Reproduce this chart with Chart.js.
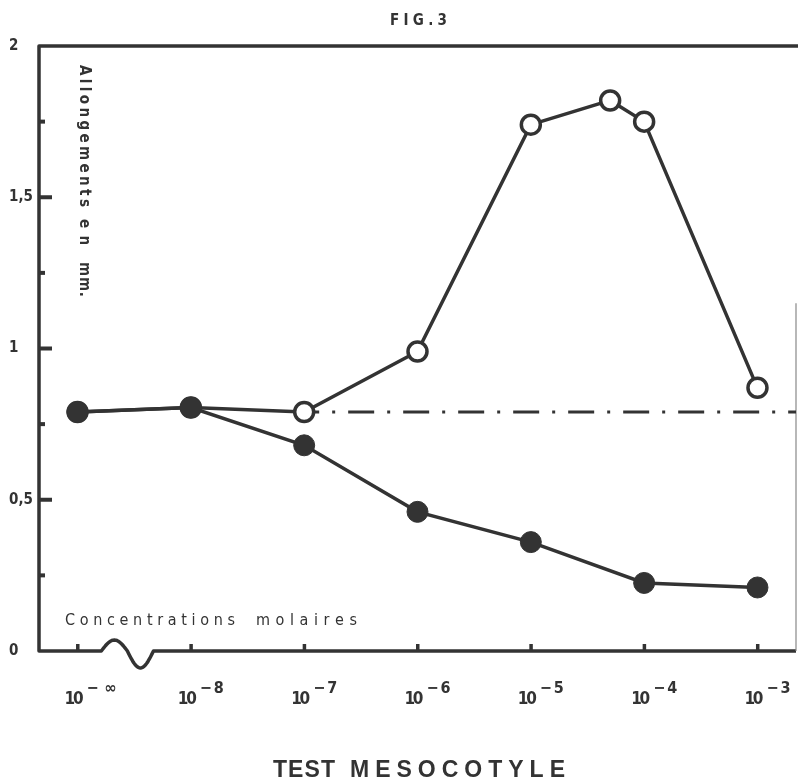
<!DOCTYPE html>
<html><head><meta charset="utf-8">
<script src="https://cdn.jsdelivr.net/npm/chart.js@4/dist/chart.umd.min.js"></script>
<style>html,body{margin:0;padding:0;background:#fff}canvas{display:block}</style>
</head><body>
<canvas id="c" width="798" height="779"></canvas>
<script>
// ---- data (x = log10 of molar concentration; -9 stands for 10^-∞) ----
const concentrationX = [-9, -8, -7, -6, -5, -4, -3];
const tickBase = '10';
const tickExponents = ['− ∞', '− 8', '− 7', '− 6', '− 5', '− 4', '− 3'];
const openX = [-9, -8, -7, -6, -5, -4.3, -4, -3];
const openY = [0.79, 0.805, 0.79, 0.99, 1.74, 1.82, 1.75, 0.87];
const filledX = [-9, -8, -7, -6, -5, -4, -3];
const filledY = [0.79, 0.805, 0.68, 0.46, 0.36, 0.225, 0.21];
const controlLevel = 0.79;
const controlStartX = -7;
const yTickValues = [0, 0.5, 1, 1.5, 2];
const yTickLabels = ['0', '0,5', '1', '1,5', '2'];
const yMinorStep = 0.25;
const X_MIN = -9.34, X_MAX = -2.66, Y_MIN = 0, Y_MAX = 2;

const INK = '#333';
const COND = "'Liberation Sans Narrow','DejaVu Sans Condensed','Roboto Condensed','Liberation Sans',sans-serif";

function spaced(ctx, text, x, y, width) {
  const chars = [...text];
  const ws = chars.map(c => ctx.measureText(c).width);
  const total = ws.reduce((a, b) => a + b, 0);
  const gap = chars.length > 1 ? (width - total) / (chars.length - 1) : 0;
  let cx = x;
  chars.forEach((c, i) => { ctx.fillText(c, cx, y); cx += ws[i] + gap; });
}

const framePlugin = {
  id: 'frame',
  beforeDatasetsDraw(chart) {
    const { ctx, chartArea: a, scales: { x, y } } = chart;
    ctx.save();
    ctx.strokeStyle = INK; ctx.fillStyle = INK;
    ctx.lineWidth = 3.5; ctx.lineJoin = 'round'; ctx.lineCap = 'butt';
    ctx.beginPath();
    ctx.moveTo(chart.width, a.top);
    ctx.lineTo(a.left, a.top);
    ctx.lineTo(a.left, a.bottom);
    const b0 = x.getPixelForValue(-8.79), b1 = x.getPixelForValue(-8.33);
    ctx.lineTo(b0, a.bottom);
    const N = 40;
    for (let i = 1; i <= N; i++) {
      const t = i / N;
      const s = Math.sin(2 * Math.PI * t);
      const amp = s > 0 ? 11 : 17;
      ctx.lineTo(b0 + (b1 - b0) * t, a.bottom - amp * s);
    }
    ctx.lineTo(a.right, a.bottom);
    ctx.stroke();
    ctx.lineWidth = 1.2; ctx.strokeStyle = '#888';
    ctx.beginPath();
    ctx.moveTo(a.right, y.getPixelForValue(1.15));
    ctx.lineTo(a.right, a.bottom);
    ctx.stroke();
    ctx.fillStyle = INK;
    for (let v = Y_MIN + yMinorStep; v < Y_MAX - 1e-9; v += yMinorStep) {
      const py = y.getPixelForValue(v);
      const major = Math.abs(v / 0.5 - Math.round(v / 0.5)) < 1e-6;
      ctx.fillRect(a.left, py - 2, major ? 13 : 6, 4);
    }
    concentrationX.forEach(v => {
      const px = x.getPixelForValue(v);
      ctx.fillRect(px - 1.5, a.bottom - 7, 3.5, 7);
    });
    ctx.restore();
  },
  afterDraw(chart) {
    const { ctx, scales: { x } } = chart;
    ctx.save();
    ctx.fillStyle = INK;
    ctx.textAlign = 'left'; ctx.textBaseline = 'alphabetic';
    concentrationX.forEach((v, i) => {
      const px = x.getPixelForValue(v);
      ctx.font = 'bold 17px ' + COND;
      spaced(ctx, tickBase, px - 13, 704, 19);
      ctx.font = 'bold 16px ' + COND;
      spaced(ctx, tickExponents[i], px + 9, 693, i === 0 ? 30 : 24);
    });
    ctx.font = 'bold 15px ' + COND;
    spaced(ctx, 'FIG.3', 390, 25, 57);
    ctx.font = 'bold 23px ' + "'Liberation Sans',Arial,sans-serif";
    spaced(ctx, 'TEST', 273, 777, 62);
    spaced(ctx, 'MESOCOTYLE', 350, 777, 215);
    ctx.font = '16px ' + COND;
    spaced(ctx, 'Concentrations', 65, 625, 170);
    spaced(ctx, 'molaires', 256, 625, 101);
    ctx.save();
    ctx.translate(84, 65);
    ctx.rotate(Math.PI / 2);
    ctx.textBaseline = 'middle';
    ctx.font = 'bold 15px ' + COND;
    spaced(ctx, 'Allongements', 0, 0, 142);
    spaced(ctx, 'en', 154, 0, 26);
    spaced(ctx, 'mm.', 197, 0, 35);
    ctx.restore();
    ctx.restore();
  }
};

new Chart(document.getElementById('c'), {
  type: 'line',
  data: {
    datasets: [
      {
        label: 'filled',
        data: filledX.map((v, i) => ({ x: v, y: filledY[i] })),
        borderColor: INK, backgroundColor: INK, borderWidth: 3.5,
        pointRadius: 10.5, pointBorderWidth: 1, pointBackgroundColor: INK, pointBorderColor: INK,
        tension: 0, clip: false
      },
      {
        label: 'open',
        data: openX.map((v, i) => ({ x: v, y: openY[i] })),
        borderColor: INK, backgroundColor: '#fff', borderWidth: 3.5,
        pointRadius: 9.5, pointBorderWidth: 3.5, pointBackgroundColor: '#fff', pointBorderColor: INK,
        tension: 0, clip: false
      },
      {
        label: 'control',
        data: [{ x: controlStartX, y: controlLevel }, { x: X_MAX, y: controlLevel }],
        borderColor: INK, borderWidth: 3, borderDash: [26, 13, 3, 13], borderDashOffset: 11,
        pointRadius: 0, tension: 0, clip: false
      }
    ]
  },
  options: {
    responsive: false,
    animation: false,
    events: [],
    layout: { autoPadding: false, padding: { left: 9, top: 46, right: 2, bottom: 128 } },
    plugins: { legend: { display: false }, tooltip: { enabled: false }, title: { display: false } },
    scales: {
      x: { type: 'linear', min: X_MIN, max: X_MAX, display: false },
      y: {
        type: 'linear', min: Y_MIN, max: Y_MAX,
        afterFit(s) { s.width = 30; },
        afterBuildTicks(s) { s.ticks = yTickValues.map(v => ({ value: v })); },
        grid: { display: false, drawTicks: false },
        border: { display: false },
        ticks: {
          crossAlign: 'far', padding: 0, color: INK,
          font: { family: COND, size: 15, weight: 'bold' },
          callback: (v) => { const i = yTickValues.indexOf(v); return i >= 0 ? yTickLabels[i] : ''; }
        }
      }
    }
  },
  plugins: [framePlugin]
});
</script>
</body></html>
